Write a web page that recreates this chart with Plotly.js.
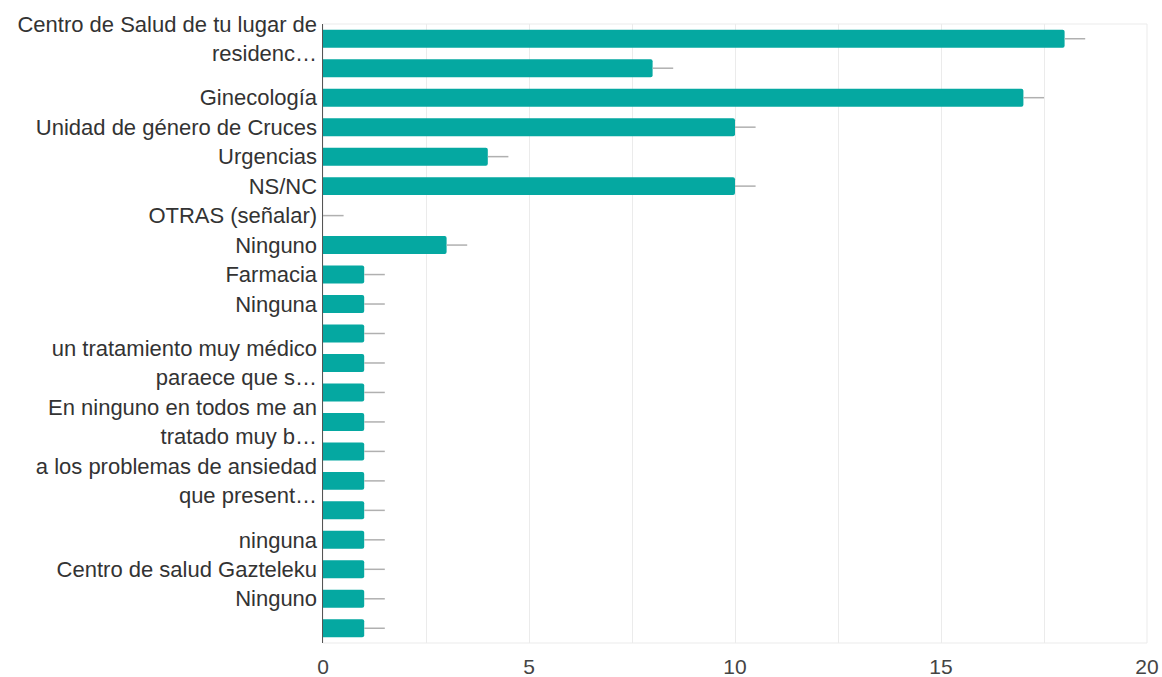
<!DOCTYPE html>
<html>
<head>
<meta charset="utf-8">
<script src="https://cdn.plot.ly/plotly-3.0.1.min.js"></script>
<style>
html,body{margin:0;padding:0;background:#fff;}
#chart{width:1162px;height:677px;}
</style>
</head>
<body>
<div id="chart"></div>
<script>
// Row display labels (blank where the original chart skipped a label)
const labels = [
  "Centro de Salud de tu lugar de<br>residenc…",
  "",
  "Ginecología",
  "Unidad de género de Cruces",
  "Urgencias",
  "NS/NC",
  "OTRAS (señalar)",
  "Ninguno",
  "Farmacia",
  "Ninguna",
  "",
  "un tratamiento muy médico<br>paraece que s…",
  "",
  "En ninguno en todos me an<br>tratado muy b…",
  "",
  "a los problemas de ansiedad<br>que present…",
  "",
  "ninguna",
  "Centro de salud Gazteleku",
  "Ninguno",
  ""
];
const values = [18, 8, 17, 10, 4, 10, 0, 3, 1, 1, 1, 1, 1, 1, 1, 1, 1, 1, 1, 1, 1];
const errPlus = values.map(() => 0.5);
const xTicks = [0, 5, 10, 15, 20];

const rows = labels.map((_, i) => i);

const trace = {
  type: 'bar',
  orientation: 'h',
  x: values,
  y: rows,
  marker: {color: '#05a8a1', cornerradius: 2},
  error_x: {
    type: 'data', symmetric: false, array: errPlus,
    arrayminus: values.map(() => 0),
    color: '#b0b0b0', thickness: 1.5, width: 0
  },
  hoverinfo: 'x'
};

const layout = {
  width: 1162, height: 677,
  margin: {l: 323, r: 15, t: 24, b: 34},
  paper_bgcolor: '#fff', plot_bgcolor: '#fff',
  bargap: 0.39,
  showlegend: false,
  font: {family: 'Liberation Sans, Arial, sans-serif', color: '#333'},
  xaxis: {
    range: [0, 20],
    tickvals: xTicks,
    ticktext: xTicks.map(String),
    tickfont: {size: 21, color: '#444'},
    showgrid: true, gridcolor: '#ebebeb', gridwidth: 1,
    minor: {dtick: 2.5, showgrid: true, gridcolor: '#ebebeb', gridwidth: 1},
    zeroline: false,
    showline: false,
    ticks: '', ticklabelstandoff: 9
  },
  yaxis: {
    autorange: 'reversed',
    range: [rows.length - 0.5, -0.5],
    tickvals: rows,
    ticktext: labels,
    tickfont: {size: 22, color: '#333'},
    showgrid: false, zeroline: false,
    showline: true, linecolor: '#555', linewidth: 1.5,
    ticks: '', ticklabelstandoff: 0
  },
  shapes: [{
    type: 'rect', xref: 'paper', yref: 'paper', x0: 0, x1: 1, y0: 0, y1: 1,
    line: {color: '#ebebeb', width: 1}, layer: 'below'
  }]
};

Plotly.newPlot('chart', [trace], layout, {displayModeBar: false, staticPlot: true});
</script>
</body>
</html>
